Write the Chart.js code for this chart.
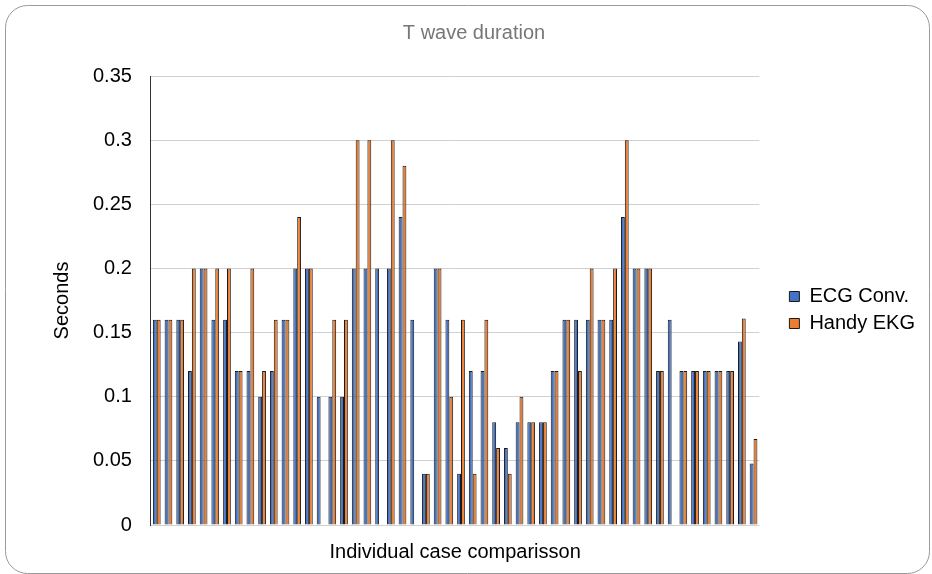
<!DOCTYPE html>
<html>
<head>
<meta charset="utf-8">
<script src="https://cdn.jsdelivr.net/npm/chart.js@4.4.0/dist/chart.umd.min.js"></script>
<style>
  html, body { margin: 0; padding: 0; background: #fff; }
  #wrap { width: 932px; height: 574px; }
</style>
</head>
<body>
<div id="wrap"><canvas id="tWaveChart" width="932" height="574"></canvas></div>
<script>
// case numbers along the x axis (labels are not shown in the chart)
const caseLabels = [
  '1', '2', '3', '4', '5', '6', '7', '8', '9', '10', '11', '12', '13',
  '14', '15', '16', '17', '18', '19', '20', '21', '22', '23', '24', '25', '26',
  '27', '28', '29', '30', '31', '32', '33', '34', '35', '36', '37', '38', '39',
  '40', '41', '42', '43', '44', '45', '46', '47', '48', '49', '50', '51', '52'
];

// T wave duration in seconds, conventional ECG
const ecgConv = [
  0.16, 0.16, 0.16, 0.12, 0.2, 0.16, 0.16, 0.12, 0.12, 0.1, 0.12, 0.16, 0.2,
  0.2, 0.1, 0.1, 0.1, 0.2, 0.2, 0.2, 0.2, 0.24, 0.16, 0.04, 0.2,
  0.16, 0.04, 0.12, 0.12, 0.08, 0.06, 0.08, 0.08, 0.08, 0.12, 0.16, 0.16, 0.16,
  0.16, 0.16, 0.24, 0.2, 0.2, 0.12, 0.16, 0.12, 0.12, 0.12, 0.12, 0.12, 0.143, 0.048
];

// T wave duration in seconds, Handy EKG (null = no value recorded)
const handyEkg = [
  0.16, 0.16, 0.16, 0.2, 0.2, 0.2, 0.2, 0.12, 0.2, 0.12, 0.16, 0.16, 0.24,
  0.2, null, 0.16, 0.16, 0.3, 0.3, null, 0.3, 0.28, null, 0.04, 0.2,
  0.1, 0.16, 0.04, 0.16, 0.06, 0.04, 0.1, 0.08, 0.08, 0.12, 0.16, 0.12, 0.2,
  0.16, 0.2, 0.3, 0.2, 0.2, 0.12, null, 0.12, 0.12, 0.12, 0.12, 0.12, 0.161, 0.067
];

const FONT = 'Liberation Sans, Arial, sans-serif';

// rounded frame around the whole chart
const frame = {
  id: 'frame',
  beforeDraw(chart) {
    const ctx = chart.ctx;
    ctx.save();
    ctx.fillStyle = '#fff';
    ctx.fillRect(0, 0, chart.width, chart.height);
    ctx.beginPath();
    ctx.roundRect(5.5, 5.5, 924, 568, 22);
    ctx.strokeStyle = '#9a9a9a';
    ctx.lineWidth = 1;
    ctx.stroke();
    ctx.restore();
  }
};

// nudge legend and title to where the original has them
const nudge = {
  id: 'nudge',
  afterLayout(chart) {
    const lg = chart.legend;
    if (lg) {
      lg.left += 23; lg.right += 23;
      lg.top += 20; lg.bottom += 20;
    }
    const t = chart.titleBlock;
    if (t) { t.left += 13; t.right += 13; }
  }
};

const ctx = document.getElementById('tWaveChart').getContext('2d');
new Chart(ctx, {
  type: 'bar',
  data: {
    labels: caseLabels,
    datasets: [
      {
        label: 'ECG Conv.',
        data: ecgConv,
        backgroundColor: '#4472C4',
        borderColor: '#1a1a1a',
        borderWidth: 1,
        categoryPercentage: 0.66,
        barPercentage: 1.0
      },
      {
        label: 'Handy EKG',
        data: handyEkg,
        backgroundColor: '#ED7D31',
        borderColor: '#1a1a1a',
        borderWidth: 1,
        categoryPercentage: 0.66,
        barPercentage: 1.0
      }
    ]
  },
  options: {
    responsive: false,
    animation: false,
    layout: { padding: { top: 14, left: 20, right: 30, bottom: 8 } },
    scales: {
      x: {
        grid: { display: false, drawTicks: false },
        border: { display: false },
        ticks: { display: false },
        title: {
          display: true,
          text: 'Individual case comparisson',
          color: '#000',
          font: { family: FONT, size: 20 },
          padding: { top: 15, bottom: 2 }
        }
      },
      y: {
        min: 0,
        max: 0.35,
        ticks: {
          stepSize: 0.05,
          color: '#000',
          padding: 19,
          font: { family: FONT, size: 20 },
          callback: function(value) {
            return String(Number(value.toFixed(2))); // 0.3 not 0.30
          }
        },
        grid: { color: '#d0d0d0', drawTicks: false },
        border: { display: true, color: '#333' },
        title: {
          display: true,
          text: 'Seconds',
          color: '#000',
          font: { family: FONT, size: 20 },
          padding: { top: 30, bottom: 0 }
        }
      }
    },
    plugins: {
      title: {
        display: true,
        text: 'T wave duration',
        color: '#777',
        font: { family: FONT, size: 20, weight: 'normal' },
        padding: { top: 7, bottom: 31 }
      },
      legend: {
        position: 'right',
        labels: {
          boxWidth: 10,
          boxHeight: 10,
          padding: 7,
          color: '#000',
          font: { family: FONT, size: 20 }
        }
      },
      tooltip: { enabled: false }
    }
  },
  plugins: [frame, nudge]
});
</script>
</body>
</html>
